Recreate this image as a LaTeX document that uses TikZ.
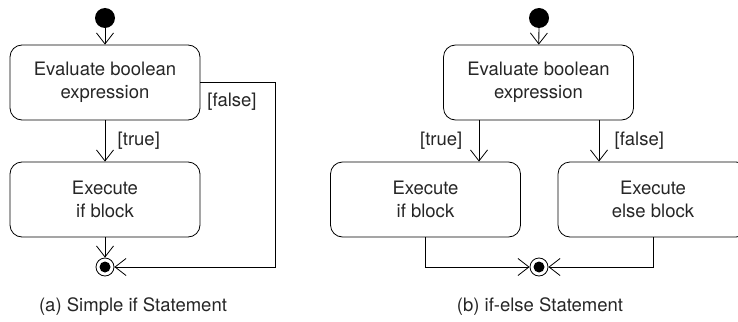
\documentclass[tikz,border=0pt]{standalone}
\usepackage{fontspec}
\setmainfont{TeX Gyre Heros}
\usetikzlibrary{arrows.meta}
\tikzset{
    act/.style={draw, rounded corners=12pt, minimum width=190pt, minimum height=75pt,
        align=center, inner sep=0pt, line width=0.8pt},
    startdot/.style={circle, fill, minimum size=20pt, inner sep=0pt},
    enddot/.style={circle, draw, line width=0.8pt, minimum size=18pt, inner sep=0pt,
        path picture={\fill (path picture bounding box.center) circle (5.5pt);}},
    flow/.style={-{Straight Barb[length=11pt,width=17pt]}, line width=0.8pt}
}
\begin{document}
\begin{tikzpicture}[x=1pt,y=-1pt,font=\fontsize{18.5}{22.5}\selectfont,text=black!85]
        \useasboundingbox (0,0) rectangle (738,321);
        \node[startdot] (sa) at (105,18) {};
        \node[act] (eva) at (105,82.5) {Evaluate boolean\\expression};
        \node[act] (exa) at (105,199.5) {Execute\\if block};
        \node[enddot] (ea) at (105,267) {};
        \coordinate (fa) at (275,267);
        \draw[flow] (sa) -- (eva);
        \draw[flow] (eva) -- node[right=9pt] {[true]} (exa);
        \draw[flow] (exa) -- (ea);
        \draw[flow] (eva) -| (fa) -- (ea);
        \node (fla) at (232,102) {[false]};
        \node (capa) at (133,307) {(a) Simple if Statement};
        \node[startdot] (sb) at (539,18) {};
        \node[act] (evb) at (538.5,82.5) {Evaluate boolean\\expression};
        \node[act] (exb) at (425.5,199.5) {Execute\\if block};
        \node[act] (elb) at (653,199.5) {Execute\\else block};
        \node[enddot] (eb) at (539,267) {};
        \draw[flow] (sb) -- (evb);
        \draw[flow] ([xshift=-59.5pt]evb.south) -- node[left=13pt] {[true]} ([xshift=53.5pt]exb.north);
        \draw[flow] ([xshift=60.5pt]evb.south) -- node[right=12pt] {[false]} ([xshift=-54pt]elb.north);
        \draw[flow] (exb) |- (eb);
        \draw[flow] (elb) |- (eb);
        \node (capb) at (540,307) {(b) if-else Statement};
    \end{tikzpicture}
\end{document}
